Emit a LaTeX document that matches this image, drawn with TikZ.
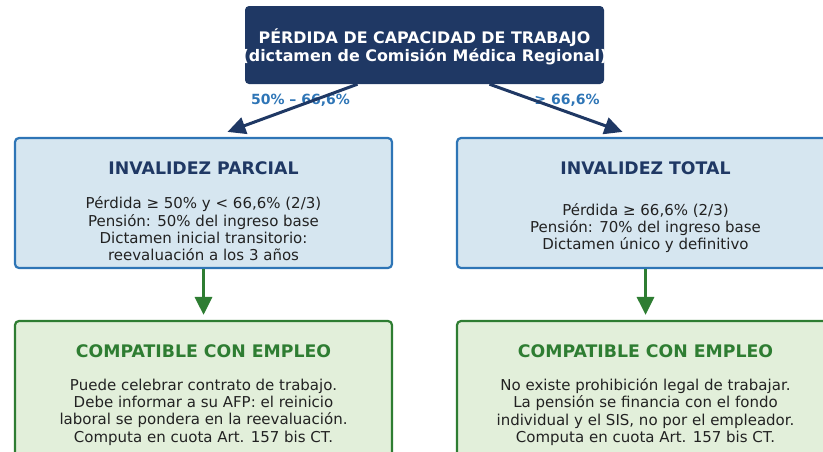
\documentclass[tikz,border=0pt]{standalone}
\usepackage{fontspec}
\setmainfont{DejaVu Sans}
\usepackage{tikz}
\usetikzlibrary{arrows.meta,positioning,calc}
\definecolor{navy}{HTML}{1F3864}
\definecolor{edgeb}{HTML}{2E75B6}
\definecolor{fillb}{HTML}{D6E6F0}
\definecolor{okg}{HTML}{2E7D32}
\definecolor{fillg}{HTML}{E2EFDA}
\definecolor{ink}{HTML}{222222}

\begin{document}
\begin{tikzpicture}[x=1pt,y=-1pt,
  box/.style={rounded corners=4pt,line width=2.2pt,minimum width=377pt,minimum height=130pt,inner sep=0pt},
  ttl/.style={font=\bfseries\fontsize{17.3}{20}\selectfont,inner sep=0pt},
  body/.style={font=\fontsize{15}{17.3}\selectfont,text=ink,align=center,inner sep=0pt},
  tag/.style={font=\bfseries\fontsize{14}{16}\selectfont,text=edgeb,inner sep=0pt},
  navyarrow/.style={-{Triangle[length=18pt,width=17pt]},navy,line width=3pt},
  greenarrow/.style={-{Triangle[length=18pt,width=17pt]},okg,line width=3pt}]
\useasboundingbox (0,0) rectangle (823,451);
\begin{scope}
\clip (0,0) rectangle (823,451);
% top box
\node[rounded corners=4pt,fill=navy,minimum width=359pt,minimum height=78pt,inner sep=0pt] (top) at (424.5,45) {};
\node[font=\bfseries\fontsize{15.9}{18}\selectfont,text=white,align=center,inner sep=0pt] (toptxt) at (424.5,47)
  {PÉRDIDA DE CAPACIDAD DE TRABAJO\\(dictamen de Comisión Médica Regional)};
% invalidez boxes
\node[box,draw=edgeb,fill=fillb] (parcial) at (203.5,203) {};
\node[box,draw=edgeb,fill=fillb] (total) at (645.5,203) {};
\node[ttl,text=navy] (parcialttl) at (203.5,168) {INVALIDEZ PARCIAL};
\node[body] (parcialtxt) at (203.5,229) {Pérdida ≥ 50\% y < 66,6\% (2/3)\\Pensión: 50\% del ingreso base\\Dictamen inicial transitorio:\\reevaluación a los 3 años};
\node[ttl,text=navy] (totalttl) at (645.5,168) {INVALIDEZ TOTAL};
\node[body] (totaltxt) at (645.5,228) {Pérdida ≥ 66,6\% (2/3)\\Pensión: 70\% del ingreso base\\Dictamen único y definitivo};
% compatible boxes
\node[box,draw=okg,fill=fillg,minimum height=135pt] (empleo1) at (203.5,388.5) {};
\node[box,draw=okg,fill=fillg,minimum height=135pt] (empleo2) at (645.5,388.5) {};
\node[ttl,text=okg] (empleo1ttl) at (203.5,351) {COMPATIBLE CON EMPLEO};
\node[body] (empleo1txt) at (203.5,412) {Puede celebrar contrato de trabajo.\\Debe informar a su AFP: el reinicio\\laboral se pondera en la reevaluación.\\Computa en cuota Art. 157 bis CT.};
\node[ttl,text=okg] (empleo2ttl) at (645.5,351) {COMPATIBLE CON EMPLEO};
\node[body] (empleo2txt) at (645.5,412) {No existe prohibición legal de trabajar.\\La pensión se financia con el fondo\\individual y el SIS, no por el empleador.\\Computa en cuota Art. 157 bis CT.};
% arrows
\node[tag] (tagparcial) at (300.5,100) {50\% – 66,6\%};
\node[tag] (tagtotal) at (567,100) {≥ 66,6\%};
\draw[navyarrow] ([xshift=-67pt]top.south) -- ([xshift=24pt,yshift=5pt]parcial.north);
\draw[navyarrow] ([xshift=65pt]top.south) -- ([xshift=-23pt,yshift=5pt]total.north);
\draw[greenarrow] (parcial.south) -- ([yshift=5pt]empleo1.north);
\draw[greenarrow] (total.south) -- ([yshift=5pt]empleo2.north);
\end{scope}
\end{tikzpicture}
\end{document}
